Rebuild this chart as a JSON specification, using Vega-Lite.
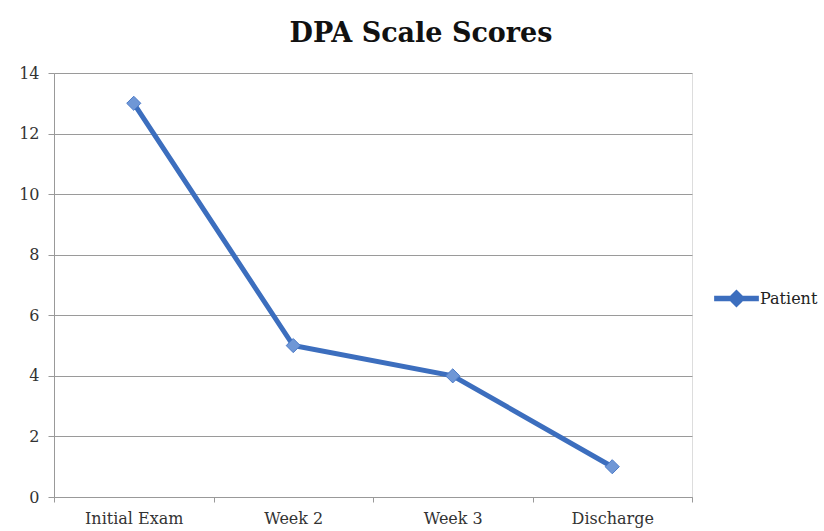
{
  "$schema": "https://vega.github.io/schema/vega-lite/v6.json",
  "autosize": "none",
  "width": 638,
  "height": 424,
  "padding": {"left": 54, "top": 73, "right": 132, "bottom": 34},
  "background": "white",
  "title": {
    "text": "DPA Scale Scores",
    "font": "DejaVu Serif",
    "fontSize": 27,
    "fontWeight": "bold",
    "color": "#111111",
    "anchor": "middle",
    "dx": 48,
    "offset": 17
  },
  "data": {
    "values": [
      {"visit": "Initial Exam", "score": 13, "series": "Patient"},
      {"visit": "Week 2", "score": 5, "series": "Patient"},
      {"visit": "Week 3", "score": 4, "series": "Patient"},
      {"visit": "Discharge", "score": 1, "series": "Patient"}
    ]
  },
  "encoding": {
    "x": {
      "field": "visit",
      "type": "nominal",
      "sort": null,
      "title": null,
      "axis": {
        "labelAngle": 0,
        "labelFont": "DejaVu Serif",
        "labelFontSize": 16,
        "labelColor": "#333333",
        "labelPadding": 8,
        "domainColor": "#999999",
        "tickColor": "#999999",
        "tickBand": "extent",
        "tickSize": 5,
        "grid": false
      }
    },
    "y": {
      "field": "score",
      "type": "quantitative",
      "title": null,
      "scale": {"domain": [0, 14]},
      "axis": {
        "values": [0, 2, 4, 6, 8, 10, 12, 14],
        "labelFont": "DejaVu Serif",
        "labelFontSize": 16,
        "labelColor": "#333333",
        "labelPadding": 9,
        "domainColor": "#999999",
        "tickColor": "#999999",
        "tickSize": 6,
        "gridColor": "#9a9a9a",
        "gridWidth": 1
      }
    }
  },
  "layer": [
    {
      "mark": {"type": "line", "strokeWidth": 5, "color": "#3C6EBE"},
      "encoding": {
        "color": {
          "field": "series",
          "type": "nominal",
          "scale": {"range": ["#3C6EBE"]},
          "legend": {
            "title": null,
            "orient": "none",
            "legendX": 660,
            "legendY": 203,
            "symbolType": "M-1,-0.12 L-0.28,-0.12 L0,-0.4 L0.28,-0.12 L1,-0.12 L1,0.12 L0.28,0.12 L0,0.4 L-0.28,0.12 L-1,0.12 Z",
            "symbolSize": 2000,
            "symbolFillColor": "#3C6EBE",
            "symbolStrokeWidth": 0,
            "labelFont": "DejaVu Serif",
            "labelFontSize": 16,
            "labelColor": "#222222",
            "labelOffset": 1
          }
        }
      }
    },
    {
      "mark": {"type": "point", "shape": "diamond", "filled": true, "size": 200, "color": "#6F97D6", "stroke": "#4C7BC8", "strokeWidth": 1, "opacity": 1}
    }
  ]
}
